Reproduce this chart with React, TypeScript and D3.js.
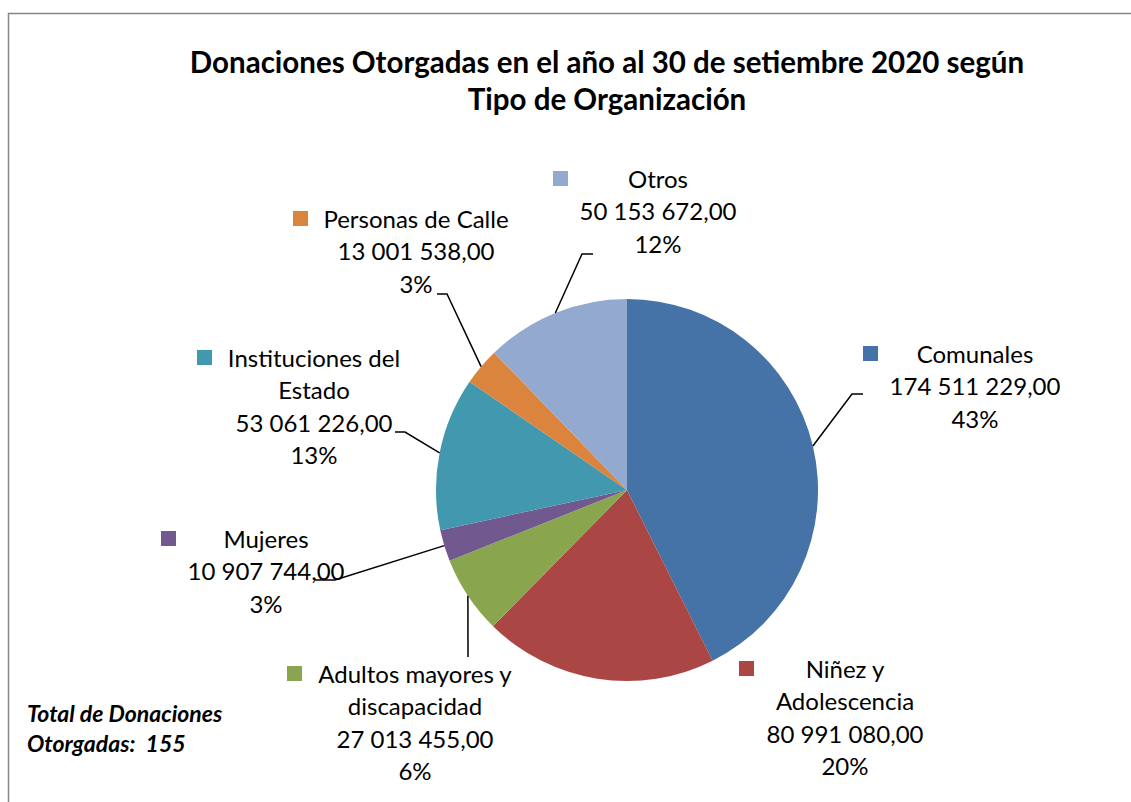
import React, { useRef, useEffect } from "react";
import * as d3 from "d3";

const categories = [
  "Comunales",
  "Niñez y Adolescencia",
  "Adultos mayores y discapacidad",
  "Mujeres",
  "Instituciones del Estado",
  "Personas de Calle",
  "Otros",
];
// label text broken the way the chart wraps it
const categoryLines = [
  ["Comunales"],
  ["Niñez y", "Adolescencia"],
  ["Adultos mayores y", "discapacidad"],
  ["Mujeres"],
  ["Instituciones del", "Estado"],
  ["Personas de Calle"],
  ["Otros"],
];
const amounts = [174511229, 80991080, 27013455, 10907744, 53061226, 13001538, 50153672];
const percentLabels = ["43%", "20%", "6%", "3%", "13%", "3%", "12%"];
const colors = ["#4572A7", "#AA4643", "#89A54E", "#71588F", "#4198AF", "#DB843D", "#93A9CF"];

const titleLines = ["Donaciones Otorgadas en el año al 30 de setiembre 2020 según", "Tipo de Organización"];
const noteLines = ["Total de Donaciones", "Otorgadas:  155"];

// manual label placement (text centre, first baseline, legend key x, leader elbows)
const labelLayout = [
  { cx: 975, y: 363, keyX: 863, elbow: [[852, 394], [863, 394]] },
  { cx: 845, y: 678, keyX: 739, elbow: [] },
  { cx: 415, y: 683, keyX: 287, elbow: [[468, 657]] },
  { cx: 266, y: 548, keyX: 161, elbow: [[335, 580], [315, 580]] },
  { cx: 314, y: 367, keyX: 197, elbow: [[405, 432], [395, 432]] },
  { cx: 416, y: 228, keyX: 293, elbow: [[447, 294], [437, 294]] },
  { cx: 658, y: 188, keyX: 553, elbow: [[582, 254], [593, 254]] },
];

const W = 1131;
const H = 802;
const FONT = "Lato, 'Open Sans', sans-serif";

const locale = d3.formatLocale({ decimal: ",", thousands: " ", grouping: [3], currency: ["", ""] });
const fmt = locale.format(",.2f");

const App: React.FC = () => {
  const svgRef = useRef<SVGSVGElement>(null);

  useEffect(() => {
    if (!svgRef.current) return;
    const svg = d3.select(svgRef.current);
    svg.selectAll("*").remove();

    // chart area border
    svg.append("rect")
      .attr("x", 8.5).attr("y", 13.5)
      .attr("width", W + 20).attr("height", H + 20)
      .attr("fill", "#fff")
      .attr("stroke", "#878787")
      .attr("stroke-width", 1.5);

    svg.append("text")
      .attr("text-anchor", "middle")
      .attr("font-family", FONT)
      .attr("font-weight", 700)
      .attr("font-size", 29.5)
      .attr("fill", "#000")
      .selectAll("tspan")
      .data(titleLines)
      .join("tspan")
      .attr("x", 607)
      .attr("y", (_, i) => 73 + i * 37)
      .text((d) => d);

    const cx = 627, cy = 490, r = 191;
    const data = categories.map((c, i) => ({ name: c, value: amounts[i], i }));
    const pie = d3.pie<{ name: string; value: number; i: number }>().sort(null).value((d) => d.value);
    const arcs = pie(data);
    const arc = d3.arc<d3.PieArcDatum<{ name: string; value: number; i: number }>>().innerRadius(0).outerRadius(r);

    const g = svg.append("g").attr("transform", `translate(${cx},${cy})`);
    g.selectAll("path")
      .data(arcs)
      .join("path")
      .attr("d", arc)
      .attr("fill", (d) => colors[d.data.i]);

    // leader lines, starting on the rim at the slice middle
    const line = d3.line();
    arcs.forEach((a) => {
      const lay = labelLayout[a.data.i];
      if (!lay.elbow.length) return;
      const mid = (a.startAngle + a.endAngle) / 2;
      const start: [number, number] = [cx + r * Math.sin(mid), cy - r * Math.cos(mid)];
      svg.append("path")
        .attr("d", line([start, ...(lay.elbow as [number, number][])]))
        .attr("fill", "none")
        .attr("stroke", "#000")
        .attr("stroke-width", 1.5);
    });

    const lh = 32.3;
    arcs.forEach((a) => {
      const i = a.data.i;
      const lay = labelLayout[i];
      const lines = [...categoryLines[i], fmt(amounts[i]), percentLabels[i]];
      svg.append("rect")
        .attr("x", lay.keyX).attr("y", lay.y - 17)
        .attr("width", 15).attr("height", 15)
        .attr("fill", colors[i]);
      svg.append("text")
        .attr("text-anchor", "middle")
        .attr("font-family", FONT)
        .attr("font-size", 24)
        .attr("fill", "#000")
        .selectAll("tspan")
        .data(lines)
        .join("tspan")
        .attr("x", lay.cx)
        .attr("y", (_, k) => lay.y + k * lh)
        .text((d) => d);
    });

    svg.append("text")
      .attr("font-family", FONT)
      .attr("font-weight", 700)
      .attr("font-style", "italic")
      .attr("font-size", 23)
      .attr("fill", "#000")
      .selectAll("tspan")
      .data(noteLines)
      .join("tspan")
      .attr("x", 27)
      .attr("y", (_, k) => 722 + k * 29.5)
      .attr("xml:space", "preserve")
      .text((d) => d);
  }, []);

  return (
    <svg
      ref={svgRef}
      width={W}
      height={H}
      style={{ position: "absolute", left: 0, top: 0, background: "#fff" }}
    />
  );
};

export default App;
